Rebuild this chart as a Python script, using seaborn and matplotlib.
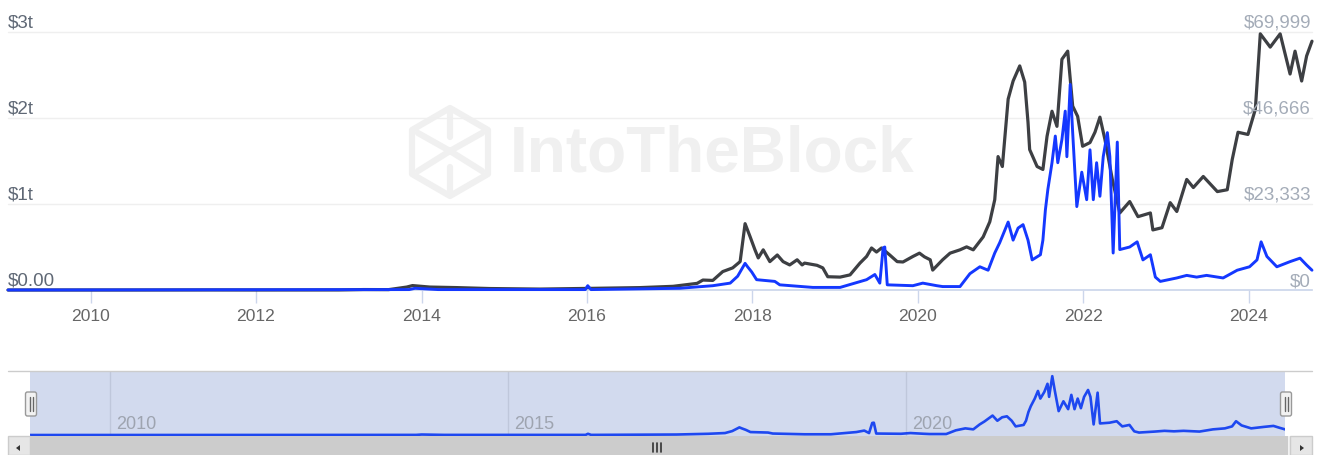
import matplotlib
matplotlib.use("Agg")  # Non-interactive backend
import matplotlib.pyplot as plt
import matplotlib.transforms as mtransforms
from matplotlib.patches import Rectangle, FancyBboxPatch, Polygon
import seaborn as sns
import pandas as pd

# --- data (decimal year -> value) ---
# black line: price in USD (right scale)
price_years = [2009.0, 2010.55, 2011.45, 2012.0, 2012.5, 2013.0, 2013.3, 2013.6,
               2013.82, 2013.89, 2014.10, 2014.43, 2014.82, 2015.43, 2016.0, 2016.64,
               2017.04, 2017.33, 2017.40, 2017.52, 2017.64, 2017.76, 2017.85, 2017.91,
               2017.97, 2018.03, 2018.07, 2018.13, 2018.21, 2018.30, 2018.37, 2018.45,
               2018.54, 2018.60, 2018.63, 2018.78, 2018.85, 2018.91, 2019.06, 2019.18,
               2019.30, 2019.38, 2019.44, 2019.50, 2019.56, 2019.66, 2019.75, 2019.82,
               2019.94, 2020.02, 2020.08, 2020.15, 2020.18, 2020.30, 2020.39, 2020.51,
               2020.59, 2020.67, 2020.79, 2020.87, 2020.93, 2020.97, 2021.02, 2021.09,
               2021.15, 2021.23, 2021.29, 2021.33, 2021.35, 2021.44, 2021.51, 2021.56,
               2021.62, 2021.68, 2021.74, 2021.81, 2021.87, 2021.93, 2021.99, 2022.08,
               2022.14, 2022.20, 2022.26, 2022.35, 2022.44, 2022.56, 2022.66, 2022.81,
               2022.84, 2022.95, 2023.05, 2023.13, 2023.25, 2023.33, 2023.45, 2023.62,
               2023.74, 2023.80, 2023.87, 2023.99, 2024.08, 2024.14, 2024.26, 2024.38,
               2024.50, 2024.56, 2024.64, 2024.70, 2024.765]
price_usd = [0, 0, 17, 5, 7, 14, 120, 100,
             800, 1200, 800, 650, 400, 250, 430, 650,
             1000, 1800, 2700, 2600, 5000, 6000, 7700, 18000,
             14500, 10900, 8700, 10900, 7700, 9500, 7700, 6800,
             8200, 6800, 7300, 6700, 6000, 3600, 3500, 4100,
             7300, 9100, 11400, 10300, 11400, 9500, 7700, 7600,
             9100, 10000, 9000, 8200, 5400, 8200, 10000, 10900,
             11700, 10900, 14400, 18500, 24500, 36200, 33500, 51800,
             56700, 60800, 56400, 45500, 38100, 33500, 32700, 41700,
             48500, 44400, 62600, 64800, 49900, 47100, 39000, 40000,
             42800, 46900, 40900, 30000, 20900, 24000, 19900, 20900,
             16300, 16900, 23700, 21300, 30000, 27800, 30800, 26700,
             27200, 35400, 42800, 42200, 49000, 69500, 65900, 69500,
             58600, 64800, 56700, 63500, 67500]

# blue line: USD billions (left scale, also shown in the navigator)
volume_years = [2009.0, 2013.85, 2013.92, 2014.2, 2015.98, 2016.01, 2016.05, 2017.12,
                2017.52, 2017.73, 2017.82, 2017.91, 2017.94, 2017.99, 2018.05, 2018.27,
                2018.33, 2018.73, 2019.06, 2019.38, 2019.48, 2019.54, 2019.58, 2019.60,
                2019.63, 2019.94, 2020.06, 2020.23, 2020.30, 2020.51, 2020.63, 2020.75,
                2020.85, 2020.93, 2020.99, 2021.09, 2021.15, 2021.21, 2021.27, 2021.33,
                2021.38, 2021.48, 2021.51, 2021.54, 2021.57, 2021.62, 2021.66, 2021.69,
                2021.74, 2021.78, 2021.80, 2021.84, 2021.87, 2021.92, 2021.98, 2022.04,
                2022.08, 2022.12, 2022.16, 2022.20, 2022.24, 2022.29, 2022.32, 2022.36,
                2022.41, 2022.44, 2022.56, 2022.65, 2022.72, 2022.81, 2022.87, 2022.93,
                2023.13, 2023.25, 2023.37, 2023.49, 2023.69, 2023.86, 2024.01, 2024.10,
                2024.15, 2024.22, 2024.34, 2024.50, 2024.62, 2024.70, 2024.765]
volume_bn = [0, 5, 20, 5, 5, 50, 5, 20,
             50, 80, 160, 310, 270, 210, 120, 100,
             60, 30, 30, 120, 180, 80, 490, 500,
             60, 50, 80, 50, 40, 40, 190, 270,
             230, 430, 550, 790, 580, 720, 760, 580,
             350, 410, 580, 930, 1170, 1480, 1790, 1480,
             1750, 2080, 1550, 2390, 1830, 970, 1370, 1050,
             1630, 1050, 1480, 1090, 1550, 1830, 1550, 430,
             1720, 470, 500, 560, 350, 410, 150, 100,
             140, 170, 150, 170, 140, 230, 270, 350,
             560, 390, 270, 330, 370, 290, 230]

left_ticks_bn = [0, 1000, 2000, 3000]
left_labels = ["$0.00", "$1t", "$2t", "$3t"]
right_ticks = [0, 23333, 46666, 69999]
right_labels = ["$0", "$23,333", "$46,666", "$69,999"]
year_ticks = [2010, 2012, 2014, 2016, 2018, 2020, 2022, 2024]
nav_years = [2010, 2015, 2020]


def to_dates(years):
    base = pd.to_datetime([f"{int(y)}-01-01" for y in years])
    return base + pd.to_timedelta([(y - int(y)) * 365.25 for y in years], unit="D")


price_df = pd.DataFrame({"date": to_dates(price_years), "price": price_usd})
vol_df = pd.DataFrame({"date": to_dates(volume_years), "volume": volume_bn})
x_min = pd.Timestamp("2009-01-01")
x_max = price_df["date"].max()

BLACK = "#3d3f43"
BLUE = "#1438ff"
W, H = 1326, 456

sns.set_theme(style="white")
plt.rcParams["font.family"] = ["Liberation Sans", "DejaVu Sans"]

fig = plt.figure(figsize=(W / 100, H / 100), dpi=100)


def px_axes(x0, y0, x1, y1, **kw):
    return fig.add_axes([x0 / W, 1 - y1 / H, (x1 - x0) / W, (y1 - y0) / H], **kw)


# background layer for the watermark
bg = px_axes(0, 0, W, H, zorder=0)
bg.set_xlim(0, W)
bg.set_ylim(H, 0)
bg.axis("off")
wm = "#f0f0f0"
hexagon = [(450, 109), (412, 131), (412, 175), (450, 197), (488, 175), (488, 131)]
bg.add_patch(Polygon(hexagon, closed=True, fill=False, ec=wm, lw=4.5, joinstyle="round"))
for seg in [[(450, 111), (450, 138)], [(418, 134), (450, 152)], [(450, 152), (482, 134)],
            [(450, 152), (418, 172)], [(450, 152), (482, 172)], [(450, 168), (450, 195)]]:
    bg.plot(*zip(*seg), color=wm, lw=4.5, solid_capstyle="round")
bg.text(510, 155, "IntoTheBlock", color=wm, fontsize=46, fontweight="bold",
        ha="left", va="center")

# --- main chart ---
ax = px_axes(8, 33, 1312, 291, zorder=2)
ax.patch.set_alpha(0)
ax_vol = ax.twinx()
ax_vol.set_zorder(3)
ax_vol.patch.set_alpha(0)

for v in right_ticks[1:]:
    ax.axhline(v, color="#efefef", lw=1, zorder=0)

sns.lineplot(data=price_df, x="date", y="price", ax=ax, color=BLACK, linewidth=2.3)
sns.lineplot(data=vol_df, x="date", y="volume", ax=ax_vol, color=BLUE, linewidth=2.1)
for line in ax.lines + ax_vol.lines:
    line.set_clip_on(False)
    line.set_solid_joinstyle("round")

ax.set_xlim(x_min, x_max)
ax.set_ylim(0, right_ticks[-1])
ax_vol.set_ylim(0, left_ticks_bn[-1])

for a in (ax, ax_vol):
    a.set_xlabel("")
    a.set_ylabel("")
    a.set_yticks([])
    for side in ("top", "left", "right"):
        a.spines[side].set_visible(False)
ax_vol.spines["bottom"].set_visible(False)
ax.spines["bottom"].set_color("#ccd6eb")

ax.set_xticks([pd.Timestamp(f"{y}-01-01") for y in year_ticks])
ax.set_xticklabels([str(y) for y in year_ticks])
ax.tick_params(axis="x", direction="out", length=9, width=1, color="#ccd6eb",
               labelcolor="#666666", labelsize=12.6, pad=4, bottom=True)

# axis labels sit just above their grid lines
tr_left = mtransforms.offset_copy(
    mtransforms.blended_transform_factory(ax.transAxes, ax_vol.transData),
    fig=fig, x=0, y=5, units="dots")
for v, lab in zip(left_ticks_bn, left_labels):
    ax_vol.text(0, v, lab, transform=tr_left, ha="left", va="baseline",
                color="#5f6875", fontsize=13.5)
tr_right = mtransforms.offset_copy(
    mtransforms.blended_transform_factory(ax.transAxes, ax.transData),
    fig=fig, x=-1, y=5, units="dots")
for v, lab in zip(right_ticks, right_labels):
    ax.text(1, v, lab, transform=tr_right, ha="right", va="baseline",
            color="#a4acb8", fontsize=13.5)

# --- navigator ---
nav = px_axes(30, 372, 1285, 437, zorder=2)
nav.set_facecolor("#d2daee")
for yr in nav_years:
    d = pd.Timestamp(f"{yr}-01-01")
    nav.axvline(d, color="#bfc7db", lw=1, zorder=1)
    nav.text(d, 0.12, str(yr), transform=mtransforms.offset_copy(
        mtransforms.blended_transform_factory(nav.transData, nav.transAxes),
        fig=fig, x=7, y=0, units="dots"),
        ha="left", va="baseline", color="#9ea4b0", fontsize=13)
sns.lineplot(data=vol_df, x="date", y="volume", ax=nav, color="#1e48f0", linewidth=1.9)
nav.set_xlim(x_min, x_max)
nav.set_ylim(-40, 2600)
nav.set_xticks([])
nav.set_yticks([])
nav.set_xlabel("")
nav.set_ylabel("")
for s in nav.spines.values():
    s.set_visible(False)

# --- navigator chrome, scrollbar and handles (pixel overlay) ---
ov = px_axes(0, 0, W, H, zorder=5)
ov.set_xlim(0, W)
ov.set_ylim(H, 0)
ov.axis("off")
ov.plot([8, 1312], [372, 372], color="#cccccc", lw=1)
ov.add_patch(Rectangle((8, 437), 1304, 19, fc="#f2f2f2", ec="none"))
ov.add_patch(Rectangle((30, 437), 1258, 19, fc="#cccccc", ec="none"))
ov.add_patch(Rectangle((8, 437), 22, 19, fc="#e6e6e6", ec="#cccccc", lw=1))
ov.add_patch(Rectangle((1290, 437), 22, 19, fc="#e6e6e6", ec="#cccccc", lw=1))
ov.add_patch(Polygon([(16, 449), (20, 446), (20, 452)], fc="#333333", ec="none"))
ov.add_patch(Polygon([(1304, 449), (1300, 446), (1300, 452)], fc="#333333", ec="none"))
for gx in (653, 657, 661):
    ov.plot([gx, gx], [444, 453], color="#333333", lw=1.2)
for hx in (31, 1286):
    ov.add_patch(FancyBboxPatch((hx - 5.5, 393), 11, 24, boxstyle="round,pad=0,rounding_size=2",
                                fc="#f2f2f2", ec="#999999", lw=1))
    ov.plot([hx - 1.5, hx - 1.5], [398, 412], color="#666666", lw=1)
    ov.plot([hx + 1.5, hx + 1.5], [398, 412], color="#666666", lw=1)

fig.savefig("out.png", dpi=100)
plt.close(fig)
